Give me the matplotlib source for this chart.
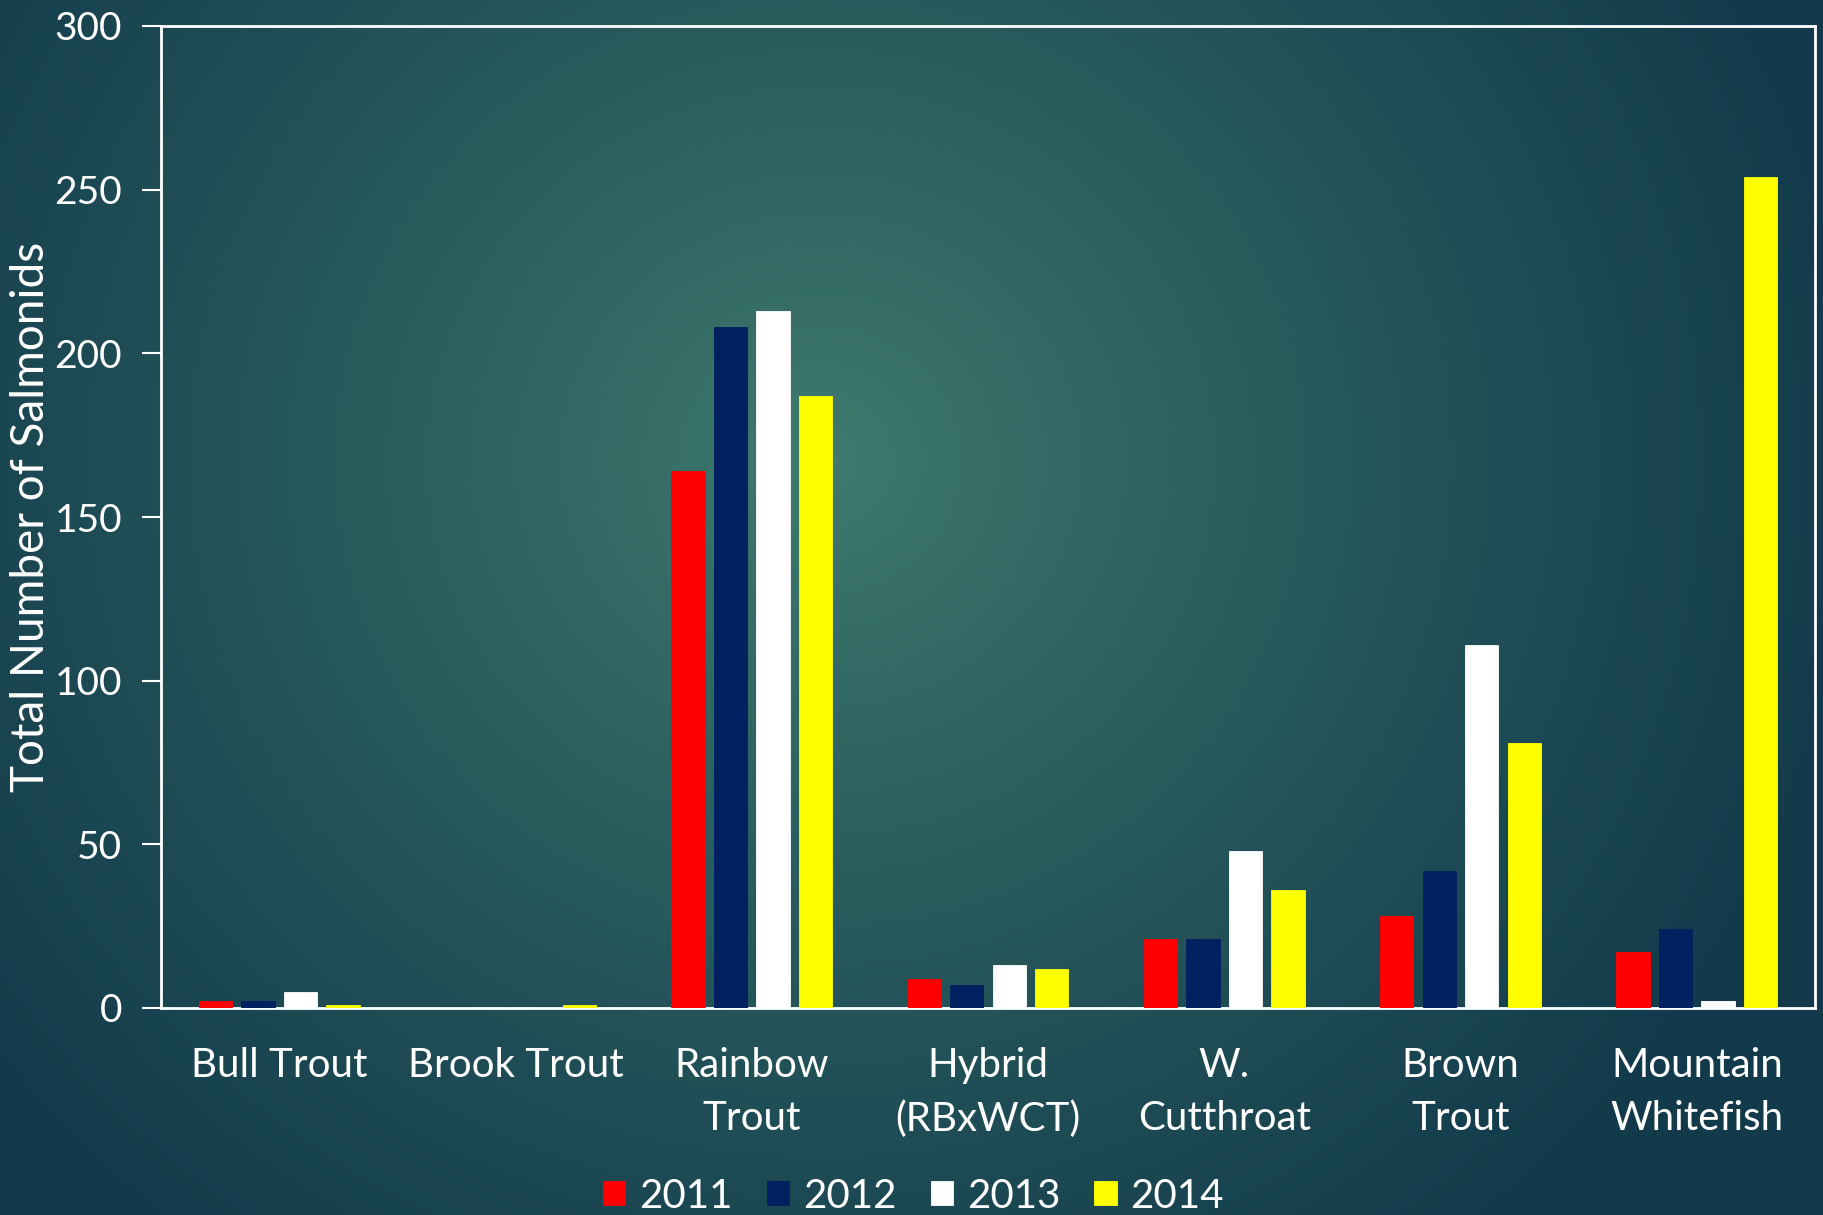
import numpy as np
import matplotlib.pyplot as plt

categories = ['Bull Trout', 'Brook Trout', 'Rainbow\nTrout', 'Hybrid\n(RBxWCT)',
              'W.\nCutthroat', 'Brown\nTrout', 'Mountain\nWhitefish']
years = ['2011', '2012', '2013', '2014']
y2011 = [2, 0, 164, 9, 21, 28, 17]
y2012 = [2, 0, 208, 7, 21, 42, 24]
y2013 = [5, 0, 213, 13, 48, 111, 2]
y2014 = [1, 1, 187, 12, 36, 81, 254]
colors = ['#ff0000', '#002060', '#ffffff', '#ffff00']

yticks = [0, 50, 100, 150, 200, 250, 300]

W, H = 1823, 1215
fig = plt.figure(figsize=(W / 100, H / 100), dpi=100)

# radial background gradient
bg = fig.add_axes([0, 0, 1, 1])
yy, xx = np.mgrid[0:H, 0:W]
d = np.sqrt((xx - 820) ** 2 + ((yy - 460) / 0.95) ** 2) / 1050.0
t = np.clip(d, 0, 1) ** 0.85
c0 = np.array([64, 124, 111]) / 255.0
c1 = np.array([18, 58, 75]) / 255.0
img = c0[None, None, :] * (1 - t[..., None]) + c1[None, None, :] * t[..., None]
bg.imshow(img, aspect='auto', extent=[0, 1, 0, 1])
bg.axis('off')

ax = fig.add_axes([161 / W, 1 - 1008 / H, (1815 - 161) / W, (1008 - 26) / H])
ax.set_facecolor('none')

series = [y2011, y2012, y2013, y2014]
x = np.arange(len(categories))
width = 0.141
step = 0.18
for i, vals in enumerate(series):
    ax.bar(x + (i - 1.5) * step, vals, width, color=colors[i], label=years[i],
           edgecolor=colors[i], linewidth=0.6, zorder=3)

ax.set_xlim(-0.5, len(categories) - 0.5)
ax.set_ylim(0, 300)
ax.set_yticks(yticks)

font = 'Lato'
ax.set_xticks(x)
ax.set_xticklabels(categories, fontsize=29, color='white', family=font,
                   linespacing=1.55)
ax.tick_params(axis='x', length=0, pad=28)
ax.tick_params(axis='y', length=14, width=1.5, color='white', pad=14,
               labelsize=28, labelcolor='white')
for lab in ax.get_yticklabels():
    lab.set_family(font)

for s in ax.spines.values():
    s.set_color('white')
    s.set_linewidth(2)

ax.set_ylabel('Total Number of Salmonids', fontsize=33, color='white',
              family=font)
ax.yaxis.set_label_coords(-0.066, 0.5)

leg = fig.legend(loc='center', bbox_to_anchor=(0.501, 1 - 1196 / H), ncol=4,
                 frameon=False, handlelength=0.55, handleheight=0.55,
                 handletextpad=0.35, columnspacing=0.85,
                 prop={'family': font, 'size': 29})
for txt in leg.get_texts():
    txt.set_color('white')

fig.savefig('out.png', dpi=100)
